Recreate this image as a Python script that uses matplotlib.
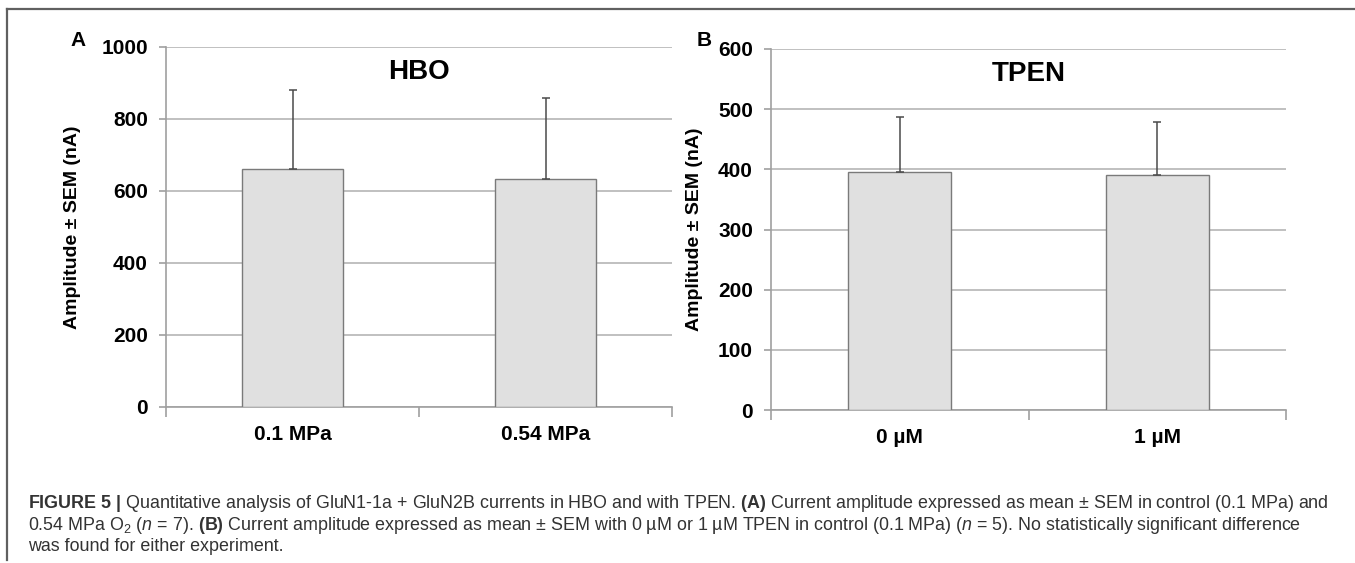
import matplotlib
matplotlib.use("Agg")
from matplotlib import pyplot as plt
from matplotlib.lines import Line2D
import numpy as np

# data
hbo_labels = ["0.1 MPa", "0.54 MPa"]
hbo_mean = [661, 633]
hbo_sem = [219, 224]

tpen_labels = ["0 µM", "1 µM"]
tpen_mean = [396, 391]
tpen_sem = [91, 87]

W, H = 1355, 563
bold_font = ["Liberation Sans", "DejaVu Sans"]
plain = ["Liberation Sans", "DejaVu Sans"]

plt.rcParams['mathtext.fontset'] = 'custom'
plt.rcParams['mathtext.rm'] = 'Liberation Sans'
plt.rcParams['mathtext.bf'] = 'Liberation Sans:bold'
plt.rcParams['mathtext.it'] = 'Liberation Sans:italic'

fig = plt.figure(figsize=(W/100, H/100), dpi=100)

def box(x0, y0, x1, y1):
    # pixel box -> figure fraction rect
    return [x0/W, 1-y1/H, (x1-x0)/W, (y1-y0)/H]

def panel(rect, labels, mean, sem, ymax, step, title, ylab_x):
    ax = fig.add_axes(rect)
    x = np.arange(len(labels))
    ax.bar(x, mean, width=0.4, color='#e0e0e0', edgecolor='#7a7a7a', linewidth=1, zorder=3)
    ax.errorbar(x, mean, yerr=[np.zeros(len(sem)), sem], fmt='none', ecolor='#4a4a4a',
                elinewidth=1.1, capsize=3, capthick=1.1, zorder=4)
    ax.set_xlim(-0.5, len(labels)-0.5)
    ax.set_ylim(0, ymax)
    ax.set_yticks(np.arange(0, ymax+1, step))
    ax.yaxis.grid(True, color='#b5b5b5', linewidth=1.2, zorder=0)
    ax.set_axisbelow(True)
    for s in ['top', 'right']:
        ax.spines[s].set_visible(False)
    for s in ['left', 'bottom']:
        ax.spines[s].set_color('#a0a0a0')
        ax.spines[s].set_linewidth(1.2)
    ax.set_xticks(x)
    ax.set_xticklabels(labels, fontfamily=bold_font, fontweight='bold', fontsize=15)
    ax.set_xticks(np.arange(-0.5, len(labels)), minor=True)
    ax.tick_params(axis='x', which='major', length=0, pad=13)
    ax.tick_params(axis='x', which='minor', length=7, color='#a0a0a0', width=1.2, direction='out')
    ax.tick_params(axis='y', length=5, color='#a0a0a0', width=1.2, pad=8)
    for t in ax.get_yticklabels():
        t.set_fontfamily(bold_font)
        t.set_fontweight('bold')
        t.set_fontsize(15)
    ax.text(0.5, 0.93, title, transform=ax.transAxes, ha='center', va='center',
            fontfamily=bold_font, fontweight='bold', fontsize=20)
    ax.set_ylabel("Amplitude ± SEM (nA)", fontfamily=plain, fontweight='bold', fontsize=14)
    ax.yaxis.set_label_coords(ylab_x, 0.5)
    return ax

panel(box(166, 47, 672, 407), hbo_labels, hbo_mean, hbo_sem, 1000, 200, "HBO", -0.168)
panel(box(771, 49, 1286, 410), tpen_labels, tpen_mean, tpen_sem, 600, 100, "TPEN", -0.132)

fig.text(78/W, 1-41/H, "A", ha='center', va='center', fontfamily=bold_font, fontweight='bold', fontsize=15)
fig.text(704/W, 1-41/H, "B", ha='center', va='center', fontfamily=bold_font, fontweight='bold', fontsize=15)

# frame lines of the figure box
fig.add_artist(Line2D([7/W, 1], [1-9/H, 1-9/H], color='#606060', linewidth=1.6))
fig.add_artist(Line2D([7/W, 7/W], [1-9/H, 1-560/H], color='#606060', linewidth=1.6))

caption = [
    r"$\mathbf{FIGURE\ 5\ |}$ Quantitative analysis of GluN1-1a + GluN2B currents in HBO and with TPEN. "
    r"$\mathbf{(A)}$ Current amplitude expressed as mean ± SEM in control (0.1 MPa) and",
    r"0.54 MPa O$_2$ ($\mathit{n}$ = 7). $\mathbf{(B)}$ Current amplitude expressed as mean ± SEM with "
    r"0 µM or 1 µM TPEN in control (0.1 MPa) ($\mathit{n}$ = 5). No statistically significant difference",
    "was found for either experiment.",
]
for i, line in enumerate(caption):
    fig.text(28/W, 1-(508+21.5*i)/H, line, ha='left', va='baseline',
             fontfamily=plain, fontsize=12.9, color='#333333')

fig.savefig("out.png", dpi=100)
